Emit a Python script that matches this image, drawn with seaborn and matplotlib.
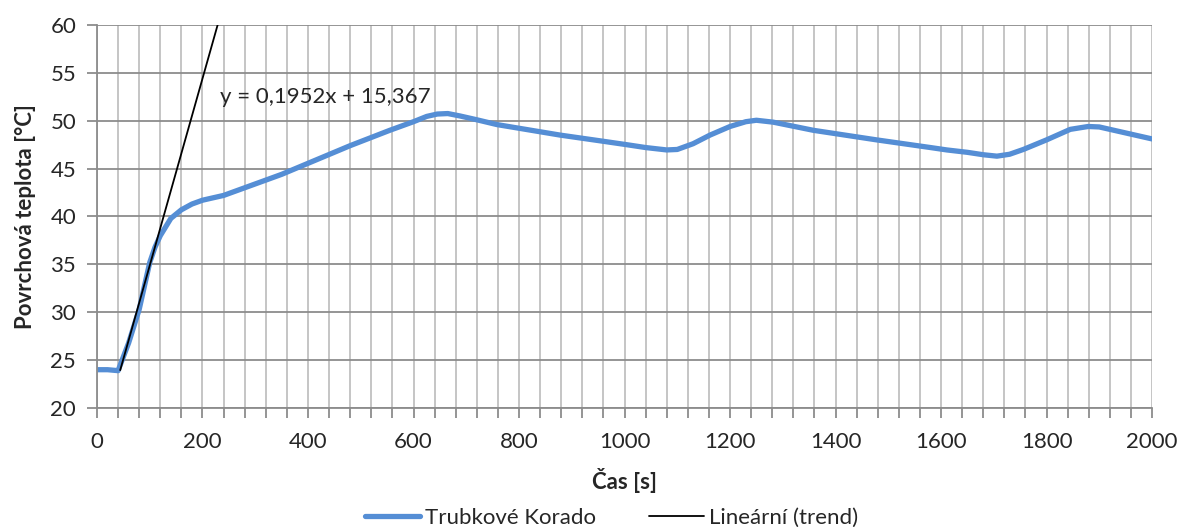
import numpy as np
import pandas as pd
import matplotlib.pyplot as plt
from matplotlib.ticker import MultipleLocator
import seaborn as sns

# values
cas = [0, 20, 40, 60, 80, 100, 110, 120, 140, 160, 180, 200, 240, 320, 350,
       480, 555, 600, 625, 645, 665, 688, 720, 758, 878, 954, 1004, 1040, 1080,
       1100, 1130, 1162, 1200, 1230, 1250, 1282, 1358, 1478, 1580, 1611, 1650,
       1680, 1706, 1730, 1756, 1800, 1845, 1879, 1900, 1920, 1960, 2000]
teplota = [24.0, 24.0, 23.9, 26.8, 30.3, 35.2, 36.8, 38.0, 39.8, 40.7, 41.3,
           41.7, 42.2, 43.8, 44.4, 47.4, 49.0, 49.9, 50.45, 50.7, 50.75, 50.5,
           50.1, 49.6, 48.5, 47.9, 47.5, 47.2, 46.95, 47.0, 47.6, 48.5, 49.4,
           49.9, 50.05, 49.85, 49.0, 48.0, 47.2, 46.95, 46.7, 46.45, 46.3, 46.5,
           47.0, 48.0, 49.1, 49.4, 49.35, 49.1, 48.6, 48.1]

trend_k = 0.1952
trend_q = 15.367
trend_x = [44, 240]

df = pd.DataFrame({"cas": cas, "teplota": teplota})
trend = pd.DataFrame({"cas": trend_x,
                      "teplota": [trend_k * x + trend_q for x in trend_x]})

sns.set_style("white")
plt.rcParams["font.family"] = ["Lato", "DejaVu Sans"]

fig = plt.figure(figsize=(11.8, 5.27), dpi=100)
ax = fig.add_axes([0.0822, 0.2258, 0.8941, 0.7268])

sns.lineplot(data=df, x="cas", y="teplota", ax=ax, color="#558ED5",
             linewidth=3.8, label="Trubkové Korado", legend=False)
sns.lineplot(data=trend, x="cas", y="teplota", ax=ax, color="black",
             linewidth=1.3, label="Lineární (trend)", legend=False)
for ln in ax.get_lines():
    ln.set_solid_joinstyle("round")

ax.set_xlim(0, 2000)
ax.set_ylim(20, 60)
ax.xaxis.set_major_locator(MultipleLocator(200))
ax.xaxis.set_minor_locator(MultipleLocator(40))
ax.yaxis.set_major_locator(MultipleLocator(5))

ax.grid(False)
ax.grid(axis="x", which="both", color="#c0c0c0", linewidth=1.3)
ax.grid(axis="y", which="major", color="#8c8c8c", linewidth=1.3)
ax.set_axisbelow(True)

for side in ["top", "right"]:
    ax.spines[side].set_visible(False)
for side in ["left", "bottom"]:
    ax.spines[side].set_color("#8c8c8c")
    ax.spines[side].set_linewidth(1.3)

ax.tick_params(axis="both", which="both", direction="out", color="#8c8c8c",
               width=1.3, labelsize=16)
ax.tick_params(axis="both", which="major", length=7)
ax.tick_params(axis="x", which="minor", length=7)
ax.tick_params(axis="x", which="both", bottom=True, pad=10)
ax.tick_params(axis="y", left=True, pad=8)

ax.set_xlabel("Čas [s]", fontsize=16, fontweight="bold", labelpad=12)
ax.set_ylabel("Povrchová teplota [°C]", fontsize=16, fontweight="bold", labelpad=10)

ax.text(233, 52.5, "y = 0,1952x + 15,367", fontsize=16, va="center", ha="left")

handles, labels = ax.get_legend_handles_labels()
fig.legend(handles, labels, loc="lower center", ncol=2, frameon=False,
           fontsize=16, bbox_to_anchor=(0.518, -0.04), handlelength=2.5,
           handletextpad=0.2, columnspacing=2.4)

fig.savefig("out.png", dpi=100)
